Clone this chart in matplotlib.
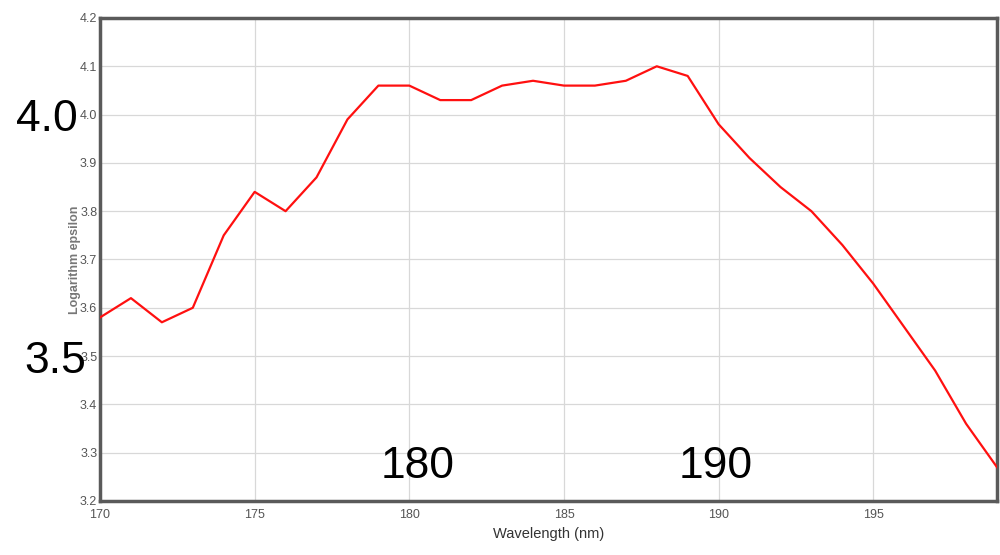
import numpy as np
from matplotlib import pyplot as plt

# absorption spectrum at 1 nm steps
wavelength = np.arange(170, 200)
log_eps = [3.58, 3.62, 3.57, 3.60, 3.75, 3.84, 3.80, 3.87, 3.99, 4.06,
           4.06, 4.03, 4.03, 4.06, 4.07, 4.06, 4.06, 4.07, 4.10, 4.08,
           3.98, 3.91, 3.85, 3.80, 3.73, 3.65, 3.56, 3.47, 3.36, 3.27]

x_ticks = [170, 175, 180, 185, 190, 195]
y_ticks = [3.2, 3.3, 3.4, 3.5, 3.6, 3.7, 3.8, 3.9, 4.0, 4.1, 4.2]

# big overlay labels: (text, x, y) in figure fractions
overlay = [("4.0", 0.047, 0.784), ("3.5", 0.055, 0.348),
           ("180", 0.418, 0.160), ("190", 0.716, 0.160)]

small_font = ["Liberation Sans Narrow", "Liberation Sans", "DejaVu Sans"]

fig = plt.figure(figsize=(10, 5.55), dpi=100)
ax = fig.add_axes([0.1, 0.0973, 0.897, 0.8703])

ax.plot(wavelength, log_eps, color="#ff1010", lw=1.6, zorder=3)

ax.set_xlim(170, 199)
ax.set_ylim(3.2, 4.2)
ax.set_xticks(x_ticks)
ax.set_yticks(y_ticks)
ax.set_xticklabels([str(v) for v in x_ticks], family=small_font, fontsize=9, color="#555555")
ax.set_yticklabels(["%.1f" % v for v in y_ticks], family=small_font, fontsize=9, color="#555555")
ax.tick_params(axis="y", length=0, pad=2)
ax.tick_params(axis="x", length=0, pad=6)
ax.grid(True, color="#d8d8d8", lw=0.9)
ax.set_axisbelow(True)
for sp in ax.spines.values():
    sp.set_color("#5a5a5a")
    sp.set_linewidth(2.5)

ax.set_xlabel("Wavelength (nm)", family=small_font, fontsize=10.5, color="#333333", labelpad=4)
ax.set_ylabel("Logarithm epsilon", family=small_font, fontsize=9, color="#777777",
              fontweight="bold", labelpad=-1)

for txt, fx, fy in overlay:
    fig.text(fx, fy, txt, ha="center", va="center", fontsize=32,
             family=["Liberation Sans", "DejaVu Sans"], color="black")

fig.savefig("out.png", dpi=100)
